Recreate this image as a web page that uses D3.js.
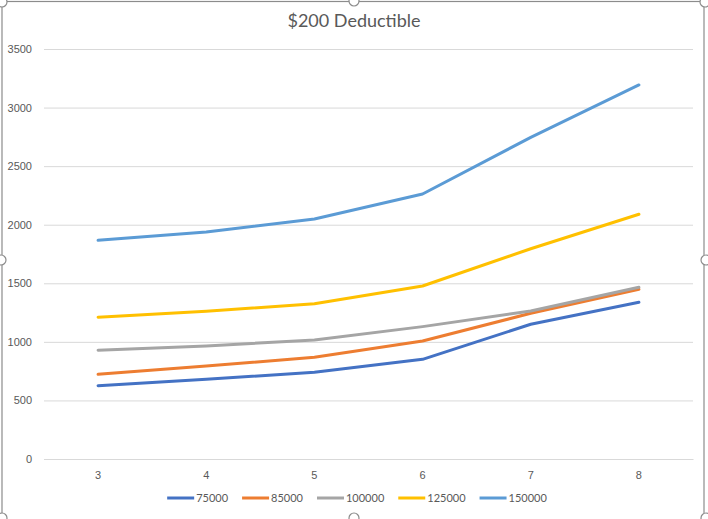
<!DOCTYPE html>
<html>
<head>
<meta charset="utf-8">
<title>$200 Deductible</title>
<script src="https://d3js.org/d3.v7.min.js"></script>
<style>
  body { margin: 0; background: #fff; }
  svg { display: block; font-family: Lato, "Open Sans", sans-serif; }
  .tick text { fill: #595959; font-size: 11px; }
</style>
</head>
<body>
<svg id="chart" width="708" height="519"></svg>
<script>
// data
var years = [3, 4, 5, 6, 7, 8];
var seriesNames = ["75000", "85000", "100000", "125000", "150000"];
var s75000 = [626, 680, 740, 851, 1150, 1338];
var s85000 = [723, 794, 868, 1007, 1244, 1449];
var s100000 = [928, 965, 1016, 1130, 1263, 1466];
var s125000 = [1210, 1261, 1326, 1477, 1795, 2089];
var s150000 = [1867, 1938, 2049, 2262, 2746, 3193];
var yTicks = [0, 500, 1000, 1500, 2000, 2500, 3000, 3500];
var colors = ["#4472C4", "#ED7D31", "#A5A5A5", "#FFC000", "#5B9BD5"];

var allSeries = [s75000, s85000, s100000, s125000, s150000];

var svg = d3.select("#chart");
var W = 708, H = 519;
var plot = {left: 44, right: 693, top: 49, bottom: 459};

// chart frame + selection handles
svg.append("rect")
  .attr("x", 2).attr("y", 1.5)
  .attr("width", 702).attr("height", 519)
  .attr("fill", "#fff").attr("stroke", "#8c8c8c").attr("stroke-width", 1.2);

var handles = [[2, 2], [354, 1], [705, 2], [1, 260], [706, 260], [354, 518], [2, 518], [706, 518]];
svg.selectAll(".handle").data(handles)
  .enter().append("circle")
  .attr("class", "handle")
  .attr("cx", function(d) { return d[0]; })
  .attr("cy", function(d) { return d[1]; })
  .attr("r", 5)
  .attr("fill", "#fff").attr("stroke", "#8c8c8c").attr("stroke-width", 1.2);

var x = d3.scaleBand()
  .domain(years)
  .range([plot.left, plot.right]);

var y = d3.scaleLinear()
  .domain([0, 3500])
  .range([plot.bottom, plot.top]);

// title
svg.append("text")
  .attr("x", 354).attr("y", 27)
  .attr("text-anchor", "middle")
  .attr("fill", "#595959")
  .style("font-size", "18px")
  .text("$200 Deductible");

// gridlines + y labels
var yAxis = d3.axisLeft(y)
  .tickValues(yTicks)
  .tickFormat(d3.format("d"))
  .tickSize(-(plot.right - plot.left))
  .tickPadding(12);

var gy = svg.append("g")
  .attr("transform", "translate(" + plot.left + ",0)")
  .call(yAxis);
gy.select(".domain").remove();
gy.selectAll(".tick line").attr("stroke", "#d9d9d9").attr("stroke-width", 1);

// x axis
var xAxis = d3.axisBottom(x).tickSize(0).tickPadding(12);
var gx = svg.append("g")
  .attr("transform", "translate(0," + plot.bottom + ")")
  .call(xAxis);
gx.select(".domain").attr("stroke", "#d9d9d9");

// lines
var line = d3.line()
  .x(function(d, i) { return x(years[i]) + x.bandwidth() / 2; })
  .y(function(d) { return y(d); });

svg.selectAll(".series").data(allSeries)
  .enter().append("path")
  .attr("class", "series")
  .attr("d", line)
  .attr("fill", "none")
  .attr("stroke", function(d, i) { return colors[i]; })
  .attr("stroke-width", 3)
  .attr("stroke-linejoin", "round")
  .attr("stroke-linecap", "round");

// legend
var legend = svg.append("g").attr("transform", "translate(0,498)");
var items = legend.selectAll(".item").data(seriesNames)
  .enter().append("g").attr("class", "item");
items.append("line")
  .attr("x1", 0).attr("x2", 27)
  .attr("y1", 0).attr("y2", 0)
  .attr("stroke", function(d, i) { return colors[i]; })
  .attr("stroke-width", 3);
items.append("text")
  .attr("x", 29).attr("y", 4)
  .attr("fill", "#595959")
  .style("font-size", "11px")
  .text(function(d) { return d; });

var widths = [];
items.each(function() {
  widths.push(29 + d3.select(this).select("text").node().getComputedTextLength());
});
var gap = 14;
var total = d3.sum(widths) + gap * (widths.length - 1);
var cx = 357 - total / 2;
items.attr("transform", function(d, i) {
  var t = "translate(" + cx + ",0)";
  cx += widths[i] + gap;
  return t;
});
</script>
</body>
</html>
